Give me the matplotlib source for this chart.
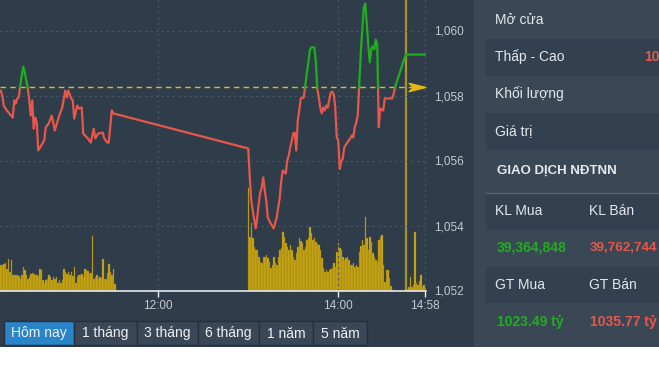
import numpy as np
import matplotlib
matplotlib.use('Agg')
import matplotlib.pyplot as plt
from matplotlib.patches import Rectangle
from matplotlib.path import Path
from matplotlib.ticker import FuncFormatter, FixedLocator

plt.rcParams['font.family'] = ['Liberation Sans', 'DejaVu Sans']

# ---- data ----
ref_price = 1058.25  # tham chieu

price_times = ["10:15", "10:16", "10:17", "10:19", "10:23", "10:24", "10:25", "10:26", "10:27", "10:28",
               "10:30", "10:31", "10:33", "10:34", "10:35", "10:36", "10:37", "10:38", "10:39", "10:40",
               "10:42", "10:44", "10:45", "10:47", "10:49", "10:50", "10:51", "10:54", "10:56", "10:58",
               "10:59", "11:00", "11:02", "11:03", "11:04", "11:06", "11:07", "11:09", "11:10", "11:13",
               "11:15", "11:17", "11:18", "11:20", "11:23", "11:24", "11:26", "11:27", "11:29", "11:30",
               "13:00", "13:01", "13:02", "13:03", "13:05", "13:06", "13:07", "13:08", "13:09", "13:10",
               "13:11", "13:12", "13:13", "13:15", "13:17", "13:19", "13:21", "13:22", "13:23", "13:25",
               "13:26", "13:27", "13:28", "13:29", "13:30", "13:31", "13:32", "13:33", "13:34", "13:35",
               "13:37", "13:38", "13:39", "13:40", "13:41", "13:42", "13:44", "13:45", "13:46", "13:47",
               "13:48", "13:49", "13:50", "13:51", "13:52", "13:53", "13:55", "13:56", "13:57", "13:58",
               "13:59", "14:00", "14:01", "14:02", "14:03", "14:04", "14:06", "14:08", "14:09", "14:10",
               "14:11", "14:12", "14:13", "14:15", "14:17", "14:18", "14:19", "14:20", "14:21", "14:22",
               "14:23", "14:24", "14:25", "14:26", "14:27", "14:28", "14:30", "14:31", "14:32", "14:36",
               "14:37", "14:38", "14:45", "14:58"]
price_vals = [1058.15, 1058.00, 1057.69, 1057.54, 1057.32, 1057.85, 1057.75, 1057.91, 1057.94, 1058.31,
              1058.89, 1058.71, 1058.22, 1057.85, 1057.38, 1057.85, 1056.98, 1057.32, 1057.17, 1056.31,
              1056.46, 1056.62, 1057.02, 1057.14, 1057.38, 1057.17, 1056.92, 1057.38, 1057.63, 1058.15,
              1057.94, 1058.15, 1057.91, 1057.85, 1057.29, 1057.69, 1057.60, 1057.63, 1056.83, 1056.68,
              1056.55, 1056.98, 1056.68, 1056.83, 1056.86, 1056.68, 1056.55, 1056.55, 1057.54, 1057.45,
              1056.37, 1055.48, 1054.77, 1054.46, 1053.91, 1054.25, 1054.68, 1055.02, 1055.17, 1055.48,
              1055.08, 1054.77, 1054.25, 1054.06, 1053.91, 1054.25, 1054.86, 1055.38, 1055.69, 1055.60,
              1056.00, 1056.15, 1056.40, 1056.62, 1056.83, 1056.86, 1056.31, 1057.23, 1057.54, 1057.91,
              1057.94, 1058.30, 1058.68, 1058.98, 1059.38, 1059.48, 1059.48, 1059.08, 1058.22, 1057.94,
              1057.63, 1057.45, 1057.63, 1057.54, 1057.69, 1057.63, 1058.09, 1058.12, 1058.03, 1057.63,
              1056.71, 1056.62, 1055.74, 1055.97, 1056.06, 1056.40, 1056.55, 1056.68, 1056.77, 1056.71,
              1057.02, 1057.17, 1057.38, 1059.29, 1060.72, 1060.83, 1060.18, 1059.57, 1059.02, 1059.42,
              1059.51, 1059.42, 1059.72, 1059.57, 1057.02, 1057.60, 1057.54, 1057.91, 1057.91, 1057.91,
              1058.06, 1058.28, 1059.26, 1059.26]

# khoi luong theo phut (don vi tuong doi)
vol_am_start = "10:15"
vol_am = [26, 26, 27, 28, 22, 32, 19, 31, 16, 16, 16, 16, 15, 12, 16, 24, 21, 16, 12, 14,
          17, 18, 17, 16, 16, 15, 22, 21, 11, 8, 11, 12, 16, 14, 11, 14, 12, 14, 8, 11,
          8, 11, 22, 19, 17, 19, 16, 19, 15, 24, 8, 14, 16, 16, 17, 14, 22, 21, 20, 17,
          18, 55, 12, 14, 16, 12, 14, 13, 32, 12, 12, 18, 27, 19, 16, 22, 7]
vol_pm_start = "13:00"
vol_pm = [103, 54, 68, 53, 44, 41, 41, 34, 29, 28, 34, 34, 36, 33, 29, 23, 26, 34, 28, 26,
          34, 41, 43, 59, 54, 48, 44, 41, 46, 41, 34, 31, 38, 44, 53, 50, 48, 41, 44, 51,
          53, 64, 58, 51, 53, 49, 47, 46, 41, 33, 23, 19, 21, 19, 21, 22, 23, 28, 24, 39,
          48, 43, 41, 34, 31, 33, 34, 31, 26, 26, 28, 24, 26, 24, 39, 45, 51, 46, 74, 53,
          41, 54, 49, 38, 34, 31, 29, 51, 54, 56, 26, 9, 21, 21, 13, 5, 1]
vol_close_times = ["14:45", "14:46", "14:47", "14:48", "14:49", "14:50", "14:51", "14:52",
                   "14:53", "14:54", "14:55", "14:56", "14:57", "14:58"]
vol_close = [400, 2, 4, 14, 4, 6, 59, 8, 6, 10, 16, 4, 6, 3]

x_ticks = ["12:00", "14:00", "14:58"]
y_ticks = [1052, 1054, 1056, 1058, 1060]

panel_rows = ["Mở cửa", "Thấp - Cao", "Khối lượng", "Giá trị"]
low_high = "10"  # phan nhin thay o mep phai
foreign_heads = ["KL Mua", "KL Bán", "GT Mua", "GT Bán"]
foreign_vals = ["39,364,848", "39,762,744", "1023.49 tỷ", "1035.77 tỷ"]
buttons = ["Hôm nay", "1 tháng", "3 tháng", "6 tháng", "1 năm", "5 năm"]


def to_min(s):
    h, m = s.split(':')
    return int(h) * 60 + int(m)


def fmt_time(v, pos=None):
    v = int(round(v))
    return '%d:%02d' % (v // 60, v % 60)


# colours
CHART_BG = '#2f3c4a'
PANEL_BG = '#3a4755'
BAND_BG = '#334050'
RED = '#e8574a'
GREEN = '#1fae1f'
GOLD = '#cfaa12'
TXT = '#e4e8ec'
AXTXT = '#c3c9cf'

W, H = 659, 371
fig = plt.figure(figsize=(W / 100, H / 100), dpi=100)
fig.patch.set_facecolor('white')

# background / panel drawn in pixel coordinates
bg = fig.add_axes([0, 0, 1, 1])
bg.set_xlim(0, W)
bg.set_ylim(H, 0)
bg.axis('off')


def box(x0, y0, x1, y1, fc, ec='none', lw=0):
    bg.add_patch(Rectangle((x0, y0), x1 - x0, y1 - y0, fc=fc, ec=ec, lw=lw))


box(0, 0, 474, 347, CHART_BG)
box(474, 0, W, 347, PANEL_BG)
for y0, y1 in [(39, 76), (113, 150), (193, 230), (267, 303)]:
    box(486, y0, W, y1, BAND_BG)
bg.plot([486, W], [193, 193], color='#55626e', lw=1)

for i, lab in enumerate(panel_rows):
    bg.text(495, 20 + i * 37, lab, color=TXT, fontsize=10, va='center', ha='left')
bg.text(644, 57, low_high, color=RED, fontsize=10, fontweight='bold', va='center', ha='left')
bg.text(497, 171, "GIAO DỊCH NĐTNN", color=TXT, fontsize=9.5, fontweight='bold', va='center')
bg.text(495, 211, foreign_heads[0], color=TXT, fontsize=10, va='center')
bg.text(589, 211, foreign_heads[1], color=TXT, fontsize=10, va='center')
bg.text(495, 285, foreign_heads[2], color=TXT, fontsize=10, va='center')
bg.text(589, 285, foreign_heads[3], color=TXT, fontsize=10, va='center')
bg.text(497, 248, foreign_vals[0], color=GREEN, fontsize=10, fontweight='bold', va='center')
bg.text(590, 248, foreign_vals[1], color=RED, fontsize=9.6, fontweight='bold', va='center')
bg.text(497, 322, foreign_vals[2], color=GREEN, fontsize=10, fontweight='bold', va='center')
bg.text(590, 322, foreign_vals[3], color=RED, fontsize=10, fontweight='bold', va='center')

# period buttons
edges = [4, 74, 137, 198, 259, 313, 367]
for i, lab in enumerate(buttons):
    fc = '#2a84c8' if i == 0 else '#3a4756'
    box(edges[i], 321, edges[i + 1], 345, fc, ec='#27313c', lw=1)
    bg.text((edges[i] + edges[i + 1]) / 2, 333.5, lab, color='#eef1f4', fontsize=10, ha='center', va='center')

# ---- chart ----
pos = [0, (H - 290.5) / H, 426 / W, 290.5 / H]
ax_vol = fig.add_axes(pos)
ax = fig.add_axes(pos, sharex=ax_vol)
for a in (ax_vol, ax):
    a.set_facecolor('none')
    for s in a.spines.values():
        s.set_visible(False)

t0 = to_min("10:15") - 0.5
ax.set_xlim(t0, to_min("14:58") + 0.5)
ax.set_ylim(1052, 1052 + 290.5 / 32.5)
vol_top = 290.5
ax_vol.set_ylim(0, vol_top)
ax_vol.set_yticks([])

# volume bars
am_t = to_min(vol_am_start) + np.arange(len(vol_am))
pm_t = to_min(vol_pm_start) + np.arange(len(vol_pm))
cl_t = np.array([to_min(s) for s in vol_close_times])
vt = np.concatenate([am_t, pm_t, cl_t])
vv = np.array(vol_am + vol_pm + vol_close, dtype=float)
cols = ['#a8993a' if v > vol_top else GOLD for v in vv]
ax_vol.bar(vt, vv, width=1.0, color=cols, edgecolor='#8f7a14', linewidth=0.25)

# grid
ax.xaxis.set_major_locator(FixedLocator([to_min(s) for s in x_ticks]))
ax.xaxis.set_major_formatter(FuncFormatter(fmt_time))
ax.set_yticks(y_ticks)
ax.yaxis.set_major_formatter(FuncFormatter(lambda v, p: '{:,.0f}'.format(v)))
ax.grid(True, color='#4b5866', lw=0.8, linestyle=(0, (2, 3)))
ax.yaxis.tick_right()
ax.tick_params(axis='y', length=0, pad=6, labelsize=8.5, labelcolor=AXTXT)
ax.tick_params(axis='x', length=4, width=1, color='#e6eaee', pad=3, labelsize=8.5, labelcolor=AXTXT)
ax_vol.tick_params(axis='x', length=0, labelbottom=False)
ax.spines['bottom'].set_visible(True)
ax.spines['bottom'].set_color('#e6eaee')
ax.spines['bottom'].set_linewidth(1.2)

# reference line + arrow
ax.axhline(ref_price, color='#d6c21e', lw=1, dashes=(4, 3), zorder=2)
arrow = Path([(-1, -0.5), (1, 0), (-1, 0.5), (-0.5, 0), (-1, -0.5)],
             [Path.MOVETO, Path.LINETO, Path.LINETO, Path.LINETO, Path.CLOSEPOLY])
ax.plot([0.979], [ref_price], transform=ax.get_yaxis_transform(), marker=arrow,
        ms=12, color='#e6b90d', clip_on=False, zorder=4)

# price line, green above reference, red below
pt = np.array([to_min(s) for s in price_times], dtype=float)
pv = np.array(price_vals)
xs, ys = [pt[0]], [pv[0]]
for i in range(1, len(pt)):
    if (pv[i - 1] - ref_price) * (pv[i] - ref_price) < 0:
        f = (ref_price - pv[i - 1]) / (pv[i] - pv[i - 1])
        xs.append(pt[i - 1] + f * (pt[i] - pt[i - 1]))
        ys.append(ref_price)
    xs.append(pt[i])
    ys.append(pv[i])
xs = np.array(xs)
ys = np.array(ys)
ax.plot(xs, np.where(ys <= ref_price, ys, np.nan), color=RED, lw=1.6, zorder=3, solid_joinstyle='round')
ax.plot(xs, np.where(ys >= ref_price, ys, np.nan), color=GREEN, lw=1.6, zorder=3, solid_joinstyle='round')

fig.savefig('out.png', dpi=100, facecolor='white')
